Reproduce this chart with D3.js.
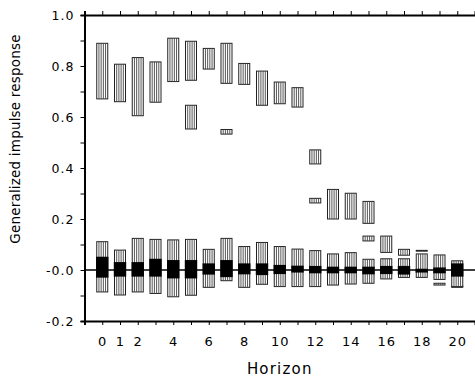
<!DOCTYPE html>
<html><head><meta charset="utf-8">
<script src="https://cdn.jsdelivr.net/npm/d3@7"></script>
<style>
body{margin:0;background:#fff;}
svg text{font-family:"DejaVu Sans",sans-serif;fill:#000;}
</style></head>
<body><svg id="c" width="475" height="383"></svg>
<script>
const horizons = [0,1,2,3,4,5,6,7,8,9,10,11,12,13,14,15,16,17,18,19,20];
// main (upper) hatched interval
const upperLo = [0.671,0.660,0.605,0.658,0.739,0.744,0.788,0.732,0.728,0.646,0.652,0.639,0.416,0.200,0.200,0.183,0.069,0.058,0.074,null,null];
const upperHi = [0.889,0.807,0.833,0.816,0.909,0.897,0.869,0.889,0.810,0.780,0.737,0.715,0.471,0.316,0.301,0.269,0.133,0.081,0.077,null,null];
// secondary hatched pieces
const extraLo = [null,null,null,null,null,0.553,null,0.533,null,null,null,null,0.263,null,null,0.114,null,null,null,-0.059,-0.068];
const extraHi = [null,null,null,null,null,0.646,null,0.551,null,null,null,null,0.281,null,null,0.133,null,null,null,-0.052,-0.063];
// near-zero hatched interval
const zeroLo = [-0.086,-0.098,-0.086,-0.092,-0.105,-0.099,-0.068,-0.042,-0.068,-0.056,-0.065,-0.065,-0.065,-0.059,-0.055,-0.052,-0.035,-0.029,-0.029,-0.037,-0.065];
const zeroHi = [0.111,0.078,0.124,0.120,0.118,0.120,0.081,0.124,0.092,0.108,0.092,0.082,0.076,0.063,0.068,0.042,0.044,0.044,0.063,0.059,0.036];
// black (central) boxes
const estLo = [-0.030,-0.026,-0.026,-0.026,-0.033,-0.033,-0.018,-0.028,-0.017,-0.020,-0.016,-0.010,-0.013,-0.013,-0.013,-0.017,-0.016,-0.018,-0.010,-0.013,-0.026];
const estHi = [0.052,0.031,0.031,0.044,0.039,0.039,0.026,0.039,0.026,0.026,0.020,0.017,0.016,0.013,0.013,0.013,0.016,0.016,0.005,0.010,0.026];
const xTickLabels = [0,1,2,4,6,8,10,12,14,16,18,20];
const yTickValues = [1.0,0.8,0.6,0.4,0.2,0.0,-0.2];
const yTickLabels = ["1.0","0.8","0.6","0.4","0.2","-0.0","-0.2"];
const yMinorTicks = [0.9,0.7,0.5,0.3,0.1,-0.1];

const svg = d3.select("#c");
const x = d3.scaleLinear().domain([-1,21]).range([84.5,475]);
const y = d3.scaleLinear().domain([-0.2,1.0]).range([321,15]);
const hw = 0.31, bw = 0.35;

// zero line
svg.append("line").attr("x1",x(-1)).attr("x2",x(21)).attr("y1",y(0)).attr("y2",y(0))
  .attr("stroke","#000").attr("stroke-width",1.5);

function hatched(lo, hi) {
  const g = svg.append("g");
  horizons.forEach((h,i)=>{
    if (lo[i]==null) return;
    const x0 = x(h-hw), x1 = x(h+hw);
    const yt = y(hi[i]), yb = y(lo[i]);
    g.append("rect").attr("x",x0).attr("y",yt).attr("width",x1-x0).attr("height",Math.max(yb-yt,0.8))
      .attr("fill","#fff").attr("stroke","#222").attr("stroke-width",1);
    for (let k=1;k<5;k++){
      const xx = x0 + (x1-x0)*k/5;
      g.append("line").attr("x1",xx).attr("x2",xx).attr("y1",yt).attr("y2",yb)
        .attr("stroke","#444").attr("stroke-width",0.9);
    }
  });
}
hatched(upperLo, upperHi);
hatched(extraLo, extraHi);
hatched(zeroLo, zeroHi);

svg.append("g").selectAll("rect").data(horizons).join("rect")
  .attr("x",h=>x(h-bw)).attr("width",h=>x(h+bw)-x(h-bw))
  .attr("y",(h,i)=>y(estHi[i])).attr("height",(h,i)=>y(estLo[i])-y(estHi[i]))
  .attr("fill","#000");

// axes
const axL = svg.append("g").attr("transform",`translate(${x(-1)},0)`)
  .call(d3.axisLeft(y).tickValues(yTickValues).tickFormat((d,i)=>yTickLabels[i]).tickSize(4).tickPadding(6));
svg.append("g").attr("transform",`translate(${x(-1)},0)`)
  .call(d3.axisLeft(y).tickValues(yMinorTicks).tickFormat("").tickSize(4)).select(".domain").remove();
const axB = svg.append("g").attr("transform",`translate(0,${y(-0.2)})`)
  .call(d3.axisBottom(x).tickValues(d3.range(-1,22)).tickFormat(d=>xTickLabels.includes(d)?d:"").tickSize(4).tickPadding(12));
const axT = svg.append("g").attr("transform",`translate(0,${y(1.0)})`)
  .call(d3.axisTop(x).tickValues(d3.range(-1,22)).tickFormat("").tickSize(4));
svg.selectAll(".domain").attr("stroke","#000").attr("stroke-width",2);
svg.selectAll(".tick line").attr("stroke","#000").attr("stroke-width",1);
axL.selectAll("text").attr("font-size",12.5).attr("letter-spacing",1).attr("font-family","DejaVu Sans");
axB.selectAll("text").attr("font-size",13).attr("letter-spacing",1).attr("font-family","DejaVu Sans");

svg.append("text").attr("x",x(10)).attr("y",374).attr("text-anchor","middle")
  .attr("font-size",15).attr("letter-spacing",1.2).text("Horizon");
svg.append("text").attr("transform","translate(20,139) rotate(-90)").attr("text-anchor","middle")
  .attr("font-size",13.5).attr("letter-spacing",0.2).text("Generalized impulse response");
</script></body></html>
